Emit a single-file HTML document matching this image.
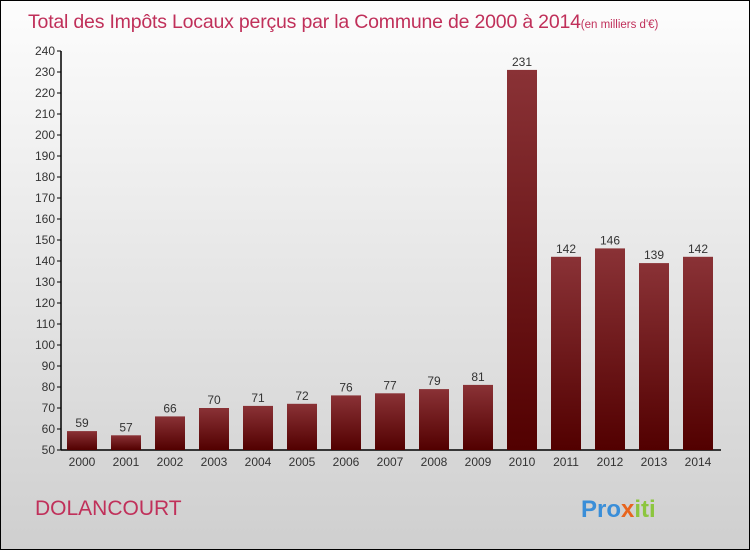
<!DOCTYPE html>
<html><head><meta charset="utf-8"><style>
body{margin:0;width:750px;height:550px;overflow:hidden;font-family:"Liberation Sans",sans-serif}
#wrap{position:absolute;left:0;top:0;width:748px;height:548px;border:1px solid #000;background:linear-gradient(#fdfdfd,#cfcfcf)}
</style></head><body>
<div id="wrap">
<svg width="748" height="548">
<defs><linearGradient id="bg" x1="0" y1="0" x2="0" y2="1"><stop offset="0" stop-color="#8a3236"/><stop offset="1" stop-color="#520000"/></linearGradient></defs>
<text x="27" y="27" font-size="19.5" letter-spacing="-0.2" fill="#c0305a">Total des Impôts Locaux perçus par la Commune de 2000 à 2014<tspan font-size="11.5" letter-spacing="0">(en milliers d'€)</tspan></text>
<g id="axes"></g><g id="bars"></g>
<text x="34" y="514" font-size="21" fill="#c0305a">DOLANCOURT</text>
<text x="580" y="516" font-size="24" font-weight="bold" fill="#3a8ed8">Pro<tspan fill="#e8651e">x</tspan><tspan fill="#8cc63f">iti</tspan></text>
</svg></div>
<script>
const years=["2000","2001","2002","2003","2004","2005","2006","2007","2008","2009","2010","2011","2012","2013","2014"];
const values=[59,57,66,70,71,72,76,77,79,81,231,142,146,139,142];
const ticks=[50,60,70,80,90,100,110,120,130,140,150,160,170,180,190,200,210,220,230,240];
const NS="http://www.w3.org/2000/svg";
const y=v=>449-(v-50)*(449-50)/190;
const x=i=>81+i*44;
function mk(t,a,p){const e=document.createElementNS(NS,t);for(const k in a)e.setAttribute(k,a[k]);p.appendChild(e);return e;}
const ax=document.getElementById('axes'),bg=document.getElementById('bars');
const yl=mk('line',{x1:60,y1:y(240),x2:60,y2:449,stroke:'#000','stroke-width':1.5},ax);


const xl=mk('line',{x1:60,y1:449,x2:720,y2:449,stroke:'#000','stroke-width':1.5},ax);


ticks.forEach(t=>{
  mk('line',{x1:56,x2:60,y1:y(t),y2:y(t),stroke:'#000'},ax);
  const tx=mk('text',{x:54,y:y(t)+4,'font-size':12,'text-anchor':'end',fill:'#333'},ax);tx.textContent=t;
  
  
});
years.forEach((yr,i)=>{
  const v=values[i];
  const r=mk('rect',{x:x(i)-15,y:y(v),width:30,height:449-y(v),fill:'url(#bg)'},bg);
  
  
  const l=mk('text',{x:x(i),y:y(v)-4,'font-size':12,'text-anchor':'middle',fill:'#333'},bg);l.textContent=v;
  
  
  const xt=mk('text',{x:x(i),y:465,'font-size':12,'text-anchor':'middle',fill:'#333'},bg);xt.textContent=yr;
  
  
});
</script>
</body></html>
